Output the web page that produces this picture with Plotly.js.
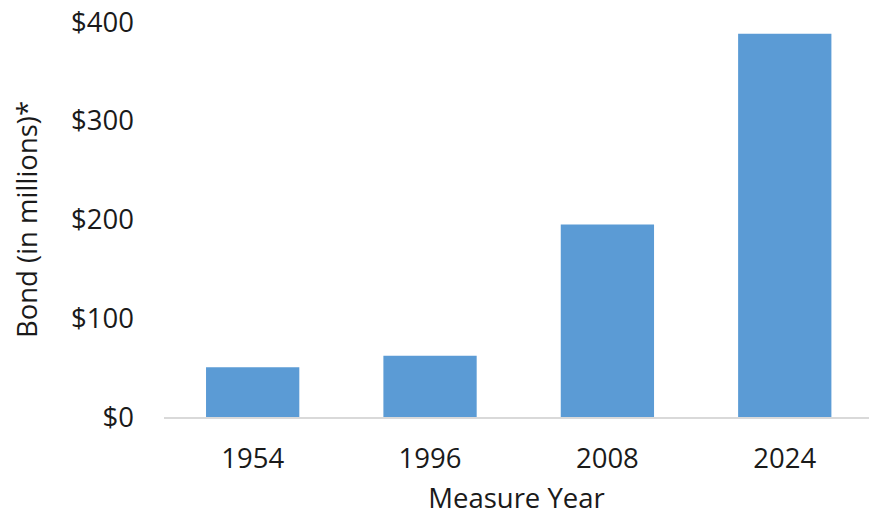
<!DOCTYPE html>
<html><head><meta charset="utf-8">
<script src="https://cdn.plot.ly/plotly-3.0.1.min.js"></script>
<style>html,body{margin:0;padding:0;background:#fff}#chart{width:869px;height:518px}</style>
</head><body><div id="chart"></div>
<script>
const years = ["1954", "1996", "2008", "2024"];
const bondMillions = [50.5, 62, 195, 388];
const yTickVals = [0, 100, 200, 300, 400];
const yTickText = ["$0", "$100", "$200", "$300", "$400"];

const font = {family: "Open Sans, Noto Sans, sans-serif", size: 27.5, color: "#1a1a1a"};

Plotly.newPlot("chart", [{
  type: "bar",
  x: years,
  y: bondMillions,
  marker: {color: "#5B9BD5"},
  hoverinfo: "x+y"
}], {
  width: 869, height: 518,
  margin: {l: 164, r: 0, t: 22, b: 101},
  paper_bgcolor: "#fff", plot_bgcolor: "#fff",
  font: font,
  bargap: 0.474,
  showlegend: false,
  xaxis: {
    type: "category",
    range: [-0.5, 3.475],
    showline: true, linecolor: "#d9d9d9", linewidth: 2,
    showgrid: false, zeroline: false,
    ticks: "", ticklabelstandoff: 16,
    tickfont: font,
    title: {text: "Measure Year", font: font, standoff: 14},
    automargin: false
  },
  yaxis: {
    range: [0, 400],
    tickvals: yTickVals, ticktext: yTickText,
    showline: false, showgrid: false, zeroline: false,
    ticks: "", ticklabelstandoff: 29,
    tickfont: font,
    title: {text: "Bond (in millions)*", font: font, standoff: 25},
    automargin: false
  }
}, {displayModeBar: false, staticPlot: true});
</script></body></html>
